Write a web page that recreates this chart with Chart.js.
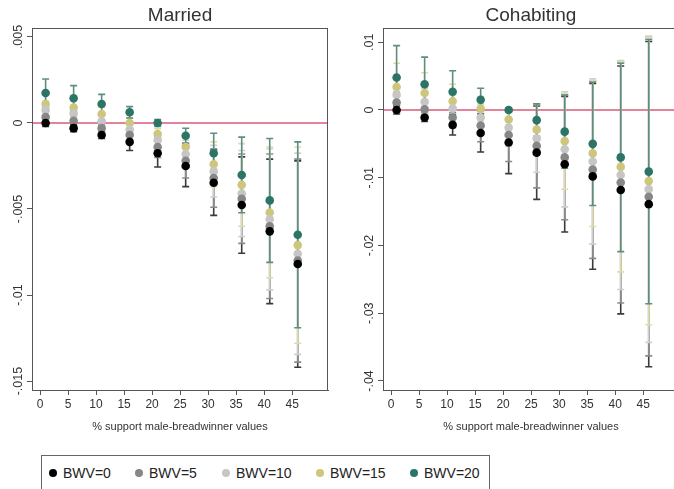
<!DOCTYPE html>
<html lang="en">
<head>
<meta charset="UTF-8">
<title>Married / Cohabiting — BWV</title>
<script src="https://cdn.jsdelivr.net/npm/chart.js@4.4.6/dist/chart.umd.min.js"></script>
<style>
  body { margin: 0; background: #fff; font-family: "Liberation Sans", Arial, sans-serif; }
  .page { position: relative; width: 674px; height: 489px; overflow: hidden; }
  .panel { position: absolute; top: 0; }
  #married-wrap { left: 0; }
  #cohab-wrap { left: 340px; }
  canvas { display: block; }
  .legend {
    position: absolute; left: 41px; top: 455px; width: 449px; height: 40px;
    border: 1px solid #666; box-sizing: border-box;
  }
  .legend .dot { position: absolute; width: 8px; height: 8px; border-radius: 50%; }
  .legend .lbl { position: absolute; font-size: 14px; color: #222; line-height: 14px; }
</style>
</head>
<body>
<div class="page">
  <div class="panel" id="married-wrap"><canvas id="married" width="340" height="440"></canvas></div>
  <div class="panel" id="cohab-wrap"><canvas id="cohab" width="350" height="440"></canvas></div>
  <div class="legend" id="legend"></div>
</div>

<script>
// ── Data ─────────────────────────────────────────────────────────────────────

const xValues = [1, 6, 11, 16, 21, 26, 31, 36, 41, 46];
const xTicks = [0, 5, 10, 15, 20, 25, 30, 35, 40, 45];
const seriesLabels = ['BWV=0', 'BWV=5', 'BWV=10', 'BWV=15', 'BWV=20'];

// Married: point estimates per series (BWV=0 … BWV=20)
const marriedBwv0  = [0.0, -0.0003, -0.0007, -0.0011, -0.00176, -0.0025, -0.00347, -0.00477, -0.0063, -0.0082];
const marriedBwv5  = [0.00035, 0.00013, -0.0003, -0.0007, -0.0014, -0.0022, -0.0032, -0.0044, -0.0060, -0.0080];
const marriedBwv10 = [0.00076, 0.00055, 0.0001, -0.0004, -0.0010, -0.0018, -0.0028, -0.0041, -0.0056, -0.0076];
const marriedBwv15 = [0.0011, 0.0009, 0.00052, 0.0, -0.00064, -0.0014, -0.0024, -0.0036, -0.0052, -0.0071];
const marriedBwv20 = [0.00174, 0.00144, 0.0011, 0.00062, 0.0, -0.00074, -0.00176, -0.00302, -0.0045, -0.0065];
// Married: half-width of the confidence interval
const marriedCi0  = [0.0002, 0.0002, 0.0002, 0.0005, 0.0008, 0.0012, 0.0019, 0.0028, 0.0042, 0.0060];
const marriedCi5  = [0.0003, 0.0003, 0.0002, 0.0004, 0.0006, 0.0010, 0.0017, 0.0026, 0.0042, 0.0059];
const marriedCi10 = [0.0005, 0.0004, 0.0003, 0.0003, 0.0004, 0.0008, 0.0015, 0.0025, 0.0041, 0.00585];
const marriedCi15 = [0.0006, 0.0006, 0.0004, 0.0003, 0.0003, 0.0006, 0.0013, 0.0024, 0.0038, 0.0057];
const marriedCi20 = [0.00082, 0.00073, 0.00056, 0.00033, 0.0002, 0.00043, 0.00116, 0.0022, 0.0036, 0.0054];

// Cohabiting: point estimates
const cohabBwv0  = [0.0, -0.0011, -0.0022, -0.0034, -0.0048, -0.0063, -0.0080, -0.0098, -0.0118, -0.0139];
const cohabBwv5  = [0.0011, 0.0001, -0.0011, -0.0023, -0.0037, -0.0053, -0.0070, -0.0088, -0.0107, -0.0128];
const cohabBwv10 = [0.0022, 0.0012, 0.0002, -0.0011, -0.0026, -0.0042, -0.0058, -0.0076, -0.0096, -0.0117];
const cohabBwv15 = [0.0034, 0.0025, 0.0013, 0.0002, -0.0014, -0.0029, -0.0046, -0.0064, -0.0084, -0.0105];
const cohabBwv20 = [0.0048, 0.0038, 0.0027, 0.0015, 0.0, -0.0015, -0.0032, -0.0050, -0.0070, -0.0091];
// Cohabiting: half-width of the confidence interval
const cohabCi0  = [0.0006, 0.0006, 0.0015, 0.0028, 0.0046, 0.0069, 0.0100, 0.0137, 0.0183, 0.0240];
const cohabCi5  = [0.0015, 0.0012, 0.0015, 0.0024, 0.0039, 0.0062, 0.0092, 0.0131, 0.0178, 0.0235];
const cohabCi10 = [0.0025, 0.0020, 0.0020, 0.0020, 0.0028, 0.0050, 0.0085, 0.0122, 0.0169, 0.0226];
const cohabCi15 = [0.0035, 0.0030, 0.0025, 0.0018, 0.0016, 0.0037, 0.0071, 0.0108, 0.0155, 0.0212];
const cohabCi20 = [0.0047, 0.0040, 0.0031, 0.0017, 0.0003, 0.0024, 0.0054, 0.0091, 0.0139, 0.0195];

const marriedYTicks  = [0.005, 0, -0.005, -0.01, -0.015];
const marriedYLabels = ['.005', '0', '-.005', '-.01', '-.015'];
const cohabYTicks  = [0.01, 0, -0.01, -0.02, -0.03, -0.04];
const cohabYLabels = ['.01', '0', '-.01', '-.02', '-.03', '-.04'];

// ── Style ─────────────────────────────────────────────────────────────────────

const pointColors = ['#000000', '#878787', '#c6c6c6', '#cfc67e', '#2c7566'];
const barColors   = ['#3a3a3a', '#8a8a8a', '#cfcfcf', '#e0dbaa', '#5e8d82'];
const axisColor = '#555';
const textColor = '#333';
const zeroColor = '#d95a78';
const FONT = '"Liberation Sans", Arial, sans-serif';

// ── Plugins ──────────────────────────────────────────────────────────────────

const panelDecor = {
  id: 'panelDecor',
  beforeDatasetsDraw(chart, args, opts) {
    const { ctx, chartArea: a, scales: { x, y } } = chart;
    ctx.save();
    // zero reference line
    const y0 = y.getPixelForValue(0);
    ctx.strokeStyle = zeroColor;
    ctx.lineWidth = 1.6;
    ctx.beginPath(); ctx.moveTo(a.left, y0); ctx.lineTo(a.right, y0); ctx.stroke();
    // error bars, drawn through the scales
    chart.data.datasets.forEach((ds, i) => {
      ctx.strokeStyle = barColors[i];
      ctx.lineWidth = 1.6;
      ds.data.forEach(p => {
        const px = x.getPixelForValue(p.x);
        const top = y.getPixelForValue(p.y + p.ci);
        const bot = y.getPixelForValue(p.y - p.ci);
        ctx.beginPath();
        ctx.moveTo(px, top); ctx.lineTo(px, bot);
        ctx.moveTo(px - 3.5, top); ctx.lineTo(px + 3.5, top);
        ctx.moveTo(px - 3.5, bot); ctx.lineTo(px + 3.5, bot);
        ctx.stroke();
      });
    });
    ctx.restore();
  },
  afterDraw(chart, args, opts) {
    const { ctx, chartArea: a, scales: { y } } = chart;
    ctx.save();
    ctx.strokeStyle = axisColor;
    ctx.lineWidth = 1;
    ctx.strokeRect(a.left + 0.5, a.top + 0.5, a.right - a.left - 1, a.bottom - a.top);
    // title
    ctx.fillStyle = textColor;
    ctx.font = '19px ' + FONT;
    ctx.textAlign = 'center';
    ctx.textBaseline = 'middle';
    ctx.fillText(opts.title, (a.left + a.right) / 2, 16);
    // rotated y tick labels
    ctx.font = '12.5px ' + FONT;
    opts.yTicks.forEach((v, i) => {
      ctx.save();
      ctx.translate(a.left - 13, y.getPixelForValue(v));
      ctx.rotate(-Math.PI / 2);
      ctx.fillText(opts.yLabels[i], 0, 0);
      ctx.restore();
    });
    ctx.restore();
  },
};

// ── Chart builder ────────────────────────────────────────────────────────────

function makeChart(id, title, ests, cis, yMin, yMax, yTicks, yLabels, yWidth, padRight) {
  const datasets = ests.map((est, i) => ({
    label: seriesLabels[i],
    data: xValues.map((xv, j) => ({ x: xv, y: est[j], ci: cis[i][j] })),
    backgroundColor: pointColors[i],
    borderWidth: 0,
    pointRadius: 4.3,
  }));
  return new Chart(document.getElementById(id), {
    type: 'scatter',
    data: { datasets },
    plugins: [panelDecor],
    options: {
      responsive: false,
      animation: false,
      layout: { padding: { left: 0, right: padRight, top: 28, bottom: 0 } },
      plugins: {
        legend: { display: false },
        tooltip: { enabled: false },
        panelDecor: { title, yTicks, yLabels },
      },
      scales: {
        x: {
          type: 'linear', min: -1.43, max: 51.4,
          afterBuildTicks: s => { s.ticks = xTicks.map(v => ({ value: v })); },
          afterFit: s => { s.height = 50; },
          ticks: { color: textColor, font: { family: FONT, size: 12 }, padding: 2, maxRotation: 0, autoSkip: false, callback: v => String(v) },
          grid: { drawOnChartArea: false, drawTicks: true, tickLength: 5, color: axisColor },
          border: { color: axisColor },
          title: { display: true, text: '% support male-breadwinner values', color: textColor, font: { family: FONT, size: 11 }, padding: { top: 0, bottom: 6 } },
        },
        y: {
          min: yMin, max: yMax,
          afterBuildTicks: s => { s.ticks = yTicks.map(v => ({ value: v })); },
          afterFit: s => { s.width = yWidth; },
          ticks: { display: false },
          grid: { drawOnChartArea: false, drawTicks: true, tickLength: 5, color: axisColor },
          border: { color: axisColor },
        },
      },
    },
  });
}

makeChart('married', 'Married',
  [marriedBwv0, marriedBwv5, marriedBwv10, marriedBwv15, marriedBwv20],
  [marriedCi0, marriedCi5, marriedCi10, marriedCi15, marriedCi20],
  -0.01552, 0.00552, marriedYTicks, marriedYLabels, 32, 12);

makeChart('cohab', 'Cohabiting',
  [cohabBwv0, cohabBwv5, cohabBwv10, cohabBwv15, cohabBwv20],
  [cohabCi0, cohabCi5, cohabCi10, cohabCi15, cohabCi20],
  -0.04133, 0.0121, cohabYTicks, cohabYLabels, 43, 11);

// ── Legend ───────────────────────────────────────────────────────────────────

const legendDotX = [7, 93, 180, 274, 368];
const legendEl = document.getElementById('legend');
seriesLabels.forEach((label, i) => {
  legendEl.innerHTML += `<div class="dot" style="left:${legendDotX[i]}px;top:13px;background:${pointColors[i]}"></div>
    <div class="lbl" style="left:${legendDotX[i] + 14}px;top:10px">${label}</div>`;
});
</script>
</body>
</html>
